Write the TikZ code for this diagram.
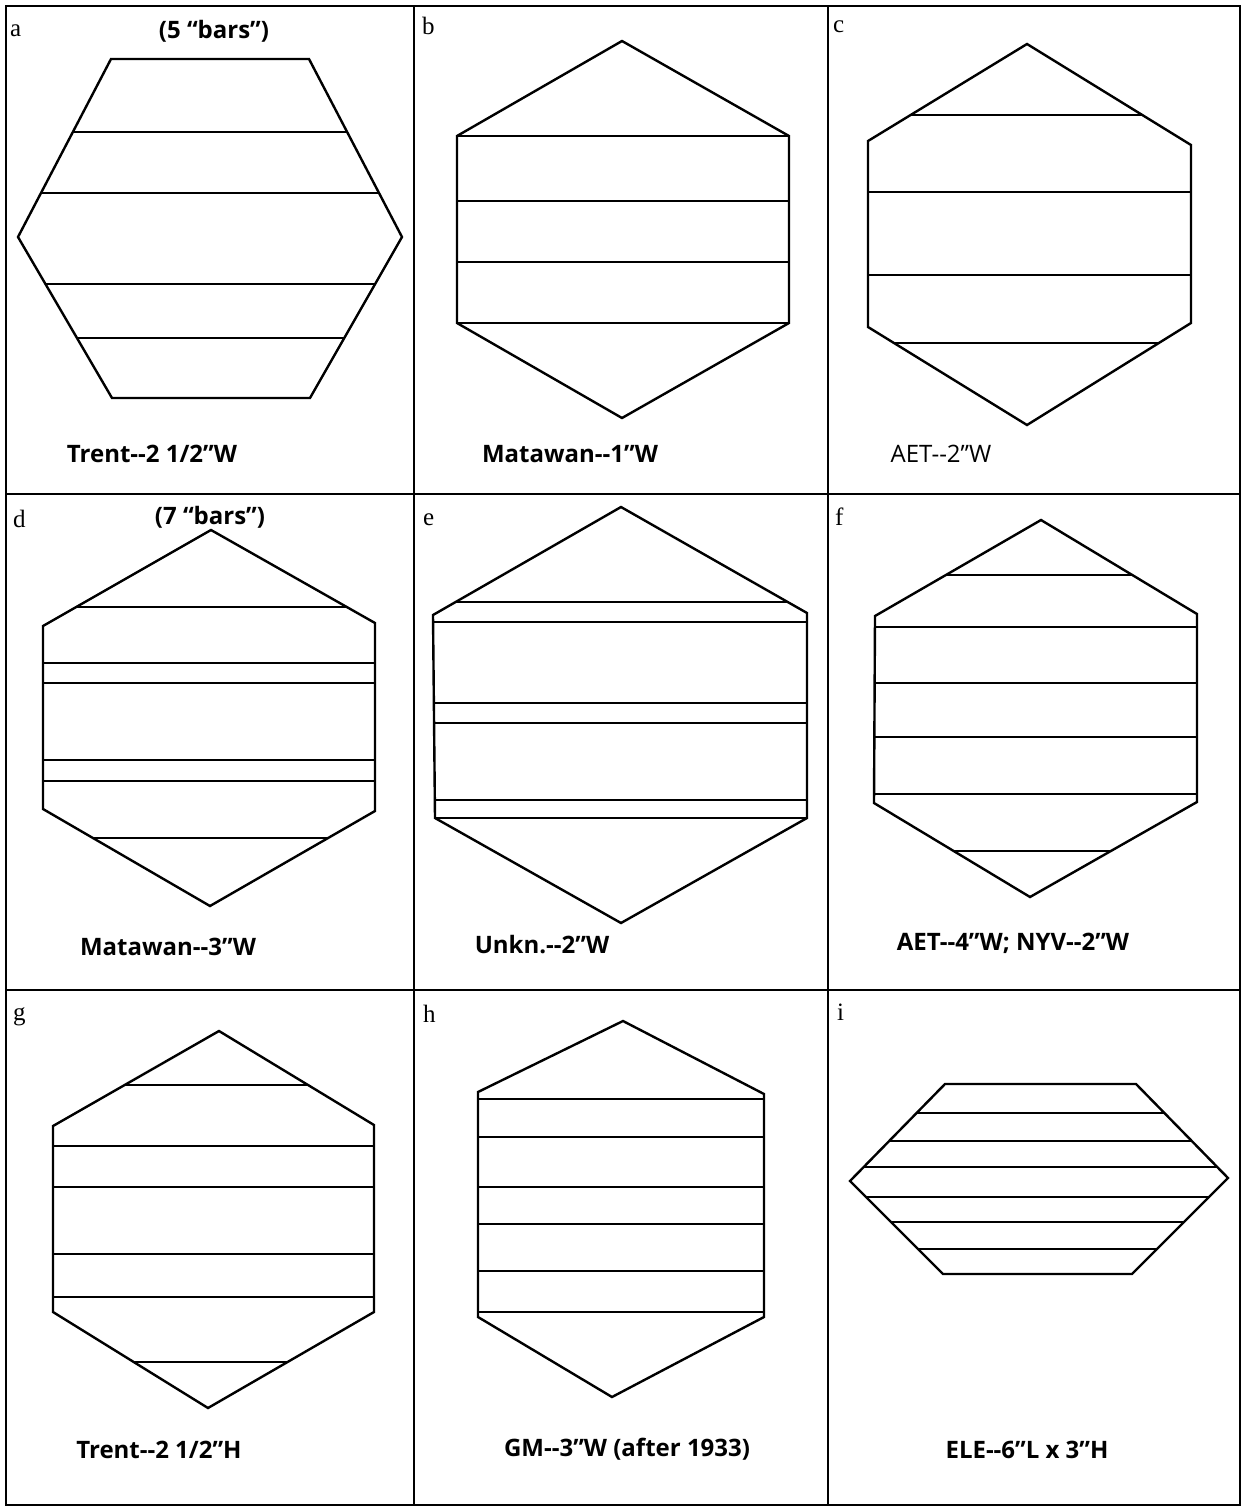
\documentclass[tikz,border=0pt]{standalone}
\usepackage{fontspec}
\setmainfont{Liberation Serif}
\newfontfamily\capfont{Open Sans}
\begin{document}
\begin{tikzpicture}[x=1pt,y=-1pt,
  frame/.style={line width=2.2pt},
  hex/.style={line width=2.4pt,line join=miter},
  bar/.style={line width=2pt},
  tag/.style={font=\fontsize{25}{29}\selectfont, anchor=base west, inner sep=0pt},
  captxt/.style={font=\capfont\bfseries\fontsize{24}{28}\selectfont, anchor=base, inner sep=0pt},
  captxtn/.style={font=\capfont\fontsize{24}{28}\selectfont, anchor=base, inner sep=0pt}]
\fill[white] (0,0) rectangle (1244,1509);
\useasboundingbox (0,0) rectangle (1244,1509);
% grid
\draw[frame] (6,6) rectangle (1240,1505);
\draw[frame] (414,6) -- (414,1505);
\draw[frame] (828,6) -- (828,1505);
\draw[frame] (6,494) -- (1240,494);
\draw[frame] (6,990) -- (1240,990);
% macro: hexagon with bars
\newcommand\hexcell[2]{%
  \begin{scope}\clip #1;
    \foreach \yy in {#2} \draw[bar] (0,\yy) -- (1244,\yy);
  \end{scope}
  \draw[hex] #1;}
% a
\hexcell{(111,59)--(309,59)--(402,237)--(310,398)--(112,398)--(18,237)--cycle}{132,193,284,338}
% b
\hexcell{(622,41)--(789,136)--(789,323)--(622,418)--(457,323)--(457,136)--cycle}{136,201,262,323}
% c
\hexcell{(1027,44)--(1191,145)--(1191,323)--(1027,425)--(868,327)--(868,141)--cycle}{115,192,275,343}
% d
\hexcell{(211,530)--(375,623)--(375,811)--(210,906)--(43,809)--(43,626)--cycle}{607,663,683,760,781,838}
% e
\hexcell{(621,507)--(807,613)--(807,818)--(621,923)--(435,818)--(433,615)--cycle}{602,622,703,723,800,818}
% f
\hexcell{(1041,520)--(1197,614)--(1197,802)--(1030,897)--(874,803)--(875,616)--cycle}{575,627,683,737,794,851}
% g
\hexcell{(219,1031)--(374,1125)--(374,1312)--(208,1408)--(53,1312)--(53,1126)--cycle}{1085,1146,1187,1254,1297,1362}
% h
\hexcell{(623,1021)--(764,1094)--(764,1317)--(612,1397)--(478,1317)--(478,1092)--cycle}{1099,1137,1187,1224,1271,1312}
% i
\hexcell{(945,1084)--(1136,1084)--(1228,1178)--(1132,1274)--(943,1274)--(850,1181)--cycle}{1113,1141,1167,1197,1222,1249}
% letter tags
\node[tag] (ta) at (10,37) {a};
\node[tag] (tb) at (422,35) {b};
\node[tag] (tc) at (833,33) {c};
\node[tag] (td) at (13,527) {d};
\node[tag] (te) at (423,525) {e};
\node[tag] (tf) at (835,525) {f};
\node[tag] (tg) at (13,1020) {g};
\node[tag] (th) at (423,1022) {h};
\node[tag] (ti) at (837,1020) {i};
% captions
\node[captxt] (na) at (214,39) {(5 “bars”)};
\node[captxt] (nd) at (210,524) {(7 “bars”)};
\node[captxt] (la) at (152,462) {Trent--2 1/2”W};
\node[captxt] (lb) at (570,462) {Matawan--1”W};
\node[captxtn] (lc) at (941,462) {AET--2”W};
\node[captxt] (ld) at (168,955) {Matawan--3”W};
\node[captxt] (le) at (542,953) {Unkn.--2”W};
\node[captxt] (lf) at (1013,950) {AET--4”W; NYV--2”W};
\node[captxt] (lg) at (159,1458) {Trent--2 1/2”H};
\node[captxt] (lh) at (627,1456) {GM--3”W (after 1933)};
\node[captxt] (li) at (1027,1458) {ELE--6”L x 3”H};
\end{tikzpicture}
\end{document}
